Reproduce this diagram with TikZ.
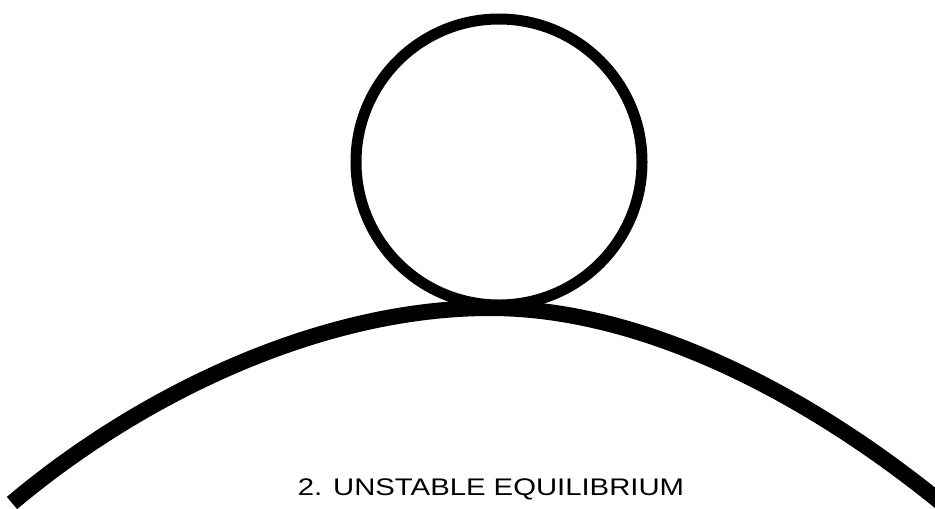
\documentclass[tikz,border=0pt]{standalone}
\usepackage{graphicx}
\usepackage{fontspec}
\setmainfont{Liberation Sans}
\begin{document}
\begin{tikzpicture}[x=0.75pt,y=-0.75pt,
  ballline/.style={line width=8.25pt,draw=black},
  hillline/.style={line width=12pt,draw=black,line cap=butt},
  captext/.style={font=\fontsize{18pt}{20pt}\selectfont,inner sep=0pt}]
\useasboundingbox (0,0) rectangle (935,508);
\clip (0,0) rectangle (935,508);
\coordinate (hl) at (12,503);
\coordinate (ht) at (490,308);
\coordinate (hr) at (950,510);
\draw[hillline] (hl) .. controls (140,395) and (320,308) .. (ht)
                     .. controls (650,308) and (820,402) .. (hr);
\node[ballline,circle,minimum size=286*0.75pt,inner sep=0pt] (ball) at (499,162) {};
\node[captext,anchor=base] (cap) at (491,495) {\scalebox{1.22}[1]{2. UNSTABLE EQUILIBRIUM}};
\end{tikzpicture}
\end{document}
